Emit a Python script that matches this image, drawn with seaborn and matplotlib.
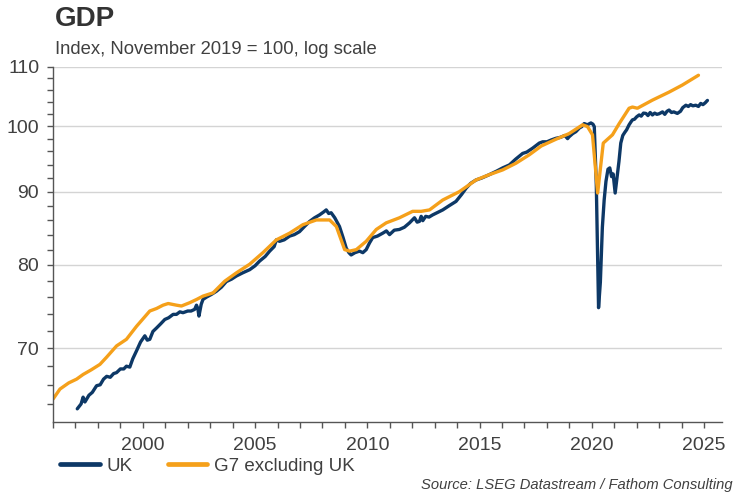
import numpy as np
import pandas as pd
import seaborn as sns
import matplotlib.pyplot as plt
from matplotlib.ticker import FixedLocator, NullFormatter

# UK monthly GDP index
uk_year = [1997.08, 1997.25, 1997.34, 1997.42, 1997.60, 1997.75, 1997.94, 1998.10, 1998.25, 1998.39,
           1998.55, 1998.70, 1998.83, 1999.00, 1999.15, 1999.27, 1999.42, 1999.55, 1999.72, 1999.90,
           2000.09, 2000.20, 2000.31, 2000.45, 2000.61, 2000.80, 2000.98, 2001.15, 2001.35, 2001.50,
           2001.65, 2001.79, 2002.00, 2002.15, 2002.31, 2002.39, 2002.45, 2002.50, 2002.60, 2002.68,
           2002.85, 2003.05, 2003.28, 2003.50, 2003.72, 2003.95, 2004.17, 2004.45, 2004.76, 2005.00,
           2005.20, 2005.45, 2005.65, 2005.85, 2005.95, 2006.09, 2006.30, 2006.54, 2006.75, 2006.98,
           2007.20, 2007.43, 2007.65, 2007.87, 2008.05, 2008.17, 2008.28, 2008.39, 2008.55, 2008.76,
           2008.92, 2009.06, 2009.18, 2009.28, 2009.45, 2009.65, 2009.80, 2009.95, 2010.10, 2010.24,
           2010.45, 2010.69, 2010.85, 2010.99, 2011.20, 2011.43, 2011.65, 2011.88, 2012.10, 2012.22,
           2012.32, 2012.40, 2012.47, 2012.60, 2012.75, 2012.91, 2013.10, 2013.36, 2013.65, 2013.95,
           2014.20, 2014.40, 2014.60, 2014.84, 2015.10, 2015.44, 2015.75, 2016.03, 2016.33, 2016.60,
           2016.92, 2017.10, 2017.36, 2017.66, 2017.81, 2018.00, 2018.20, 2018.40, 2018.60, 2018.80,
           2018.92, 2018.99, 2019.15, 2019.29, 2019.45, 2019.55, 2019.66, 2019.80, 2019.96, 2020.05,
           2020.11, 2020.20, 2020.30, 2020.38, 2020.47, 2020.55, 2020.63, 2020.72, 2020.80, 2020.88,
           2020.95, 2021.04, 2021.12, 2021.21, 2021.29, 2021.38, 2021.47, 2021.55, 2021.66, 2021.75,
           2021.81, 2021.90, 2022.00, 2022.11, 2022.20, 2022.30, 2022.41, 2022.50, 2022.60, 2022.70,
           2022.80, 2022.90, 2023.00, 2023.15, 2023.25, 2023.35, 2023.44, 2023.55, 2023.65, 2023.81,
           2023.95, 2024.05, 2024.19, 2024.30, 2024.40, 2024.50, 2024.63, 2024.75, 2024.85, 2024.95,
           2025.05, 2025.15]
uk_value = [63.5, 64.0, 64.7, 64.2, 64.9, 65.2, 65.9, 66.0, 66.6, 66.9,
            66.8, 67.2, 67.3, 67.7, 67.7, 68.0, 67.9, 68.8, 69.7, 70.7,
            71.4, 70.9, 71.0, 71.9, 72.3, 72.8, 73.3, 73.5, 73.9, 73.9,
            74.2, 74.1, 74.3, 74.3, 74.5, 75.0, 74.6, 73.7, 75.1, 75.7,
            76.0, 76.3, 76.7, 77.2, 77.9, 78.2, 78.6, 79.0, 79.4, 79.9,
            80.5, 81.1, 81.8, 82.4, 83.3, 83.1, 83.3, 83.8, 84.0, 84.4,
            85.1, 85.8, 86.3, 86.7, 87.1, 87.4, 86.9, 87.0, 86.3, 85.1,
            83.6, 82.2, 81.6, 81.3, 81.6, 81.8, 81.6, 82.0, 82.9, 83.6,
            83.8, 84.2, 84.5, 84.0, 84.6, 84.7, 85.0, 85.6, 86.3, 85.7,
            85.8, 86.5, 85.9, 86.5, 86.4, 86.7, 87.0, 87.4, 88.0, 88.6,
            89.6, 90.5, 91.2, 91.7, 92.0, 92.5, 93.0, 93.5, 93.95, 94.8,
            95.7, 95.9, 96.5, 97.3, 97.5, 97.5, 97.8, 98.05, 98.2, 98.5,
            98.0, 98.3, 98.8, 99.1, 99.7, 99.9, 100.4, 100.2, 100.5, 100.3,
            99.9, 91.0, 74.7, 77.8, 85.0, 88.8, 91.5, 93.3, 93.5, 92.2,
            92.6, 89.8, 92.0, 94.5, 97.3, 98.5, 99.0, 99.4, 100.2, 100.7,
            101.0, 101.1, 101.5, 101.8, 101.6, 102.1, 102.05, 101.7, 102.2, 101.8,
            102.1, 101.9, 102.0, 102.3, 101.9, 102.4, 102.6, 102.2, 102.3, 102.05,
            102.4, 103.0, 103.4, 103.2, 103.5, 103.3, 103.4, 103.2, 103.7, 103.5,
            103.8, 104.2]

# G7 excluding UK
g7_year = [1996.00, 1996.31, 1996.70, 1997.05, 1997.34, 1997.70, 1998.09, 1998.39, 1998.83, 1999.27,
           1999.72, 2000.05, 2000.31, 2000.61, 2000.90, 2001.13, 2001.50, 2001.72, 2002.09, 2002.40,
           2002.68, 2003.13, 2003.65, 2004.17, 2004.76, 2005.35, 2005.95, 2006.54, 2007.13, 2007.73,
           2008.32, 2008.62, 2008.99, 2009.21, 2009.51, 2009.95, 2010.40, 2010.84, 2011.43, 2012.02,
           2012.40, 2012.77, 2013.36, 2014.10, 2014.84, 2015.44, 2016.03, 2016.62, 2017.22, 2017.75,
           2018.40, 2018.99, 2019.59, 2019.81, 2020.03, 2020.26, 2020.51, 2020.92, 2021.22, 2021.66,
           2021.81, 2022.03, 2022.70, 2023.44, 2024.03, 2024.75]
g7_value = [64.5, 65.55, 66.2, 66.6, 67.1, 67.6, 68.2, 69.0, 70.25, 71.0,
            72.5, 73.5, 74.3, 74.6, 75.0, 75.2, 75.0, 74.9, 75.3, 75.7,
            76.1, 76.5, 77.95, 79.0, 80.1, 81.6, 83.3, 84.2, 85.35, 86.0,
            86.0, 85.1, 82.0, 81.8, 82.0, 83.1, 84.7, 85.6, 86.3, 87.2,
            87.2, 87.4, 88.8, 90.0, 91.7, 92.5, 93.2, 94.2, 95.5, 96.85,
            97.9, 98.8, 100.2, 99.9, 98.6, 89.8, 97.3, 98.6, 100.4, 102.9,
            103.1, 102.9, 104.25, 105.6, 106.8, 108.5]

y_ticks = [70, 80, 90, 100, 110]
x_ticks = [2000, 2005, 2010, 2015, 2020, 2025]

uk_color = '#0d3866'
g7_color = '#f5a01a'
text_color = '#404040'

sns.set_theme(style='white')
plt.rcParams['font.family'] = ['Liberation Sans', 'DejaVu Sans']

uk = pd.DataFrame({'year': uk_year, 'value': uk_value})
g7 = pd.DataFrame({'year': g7_year, 'value': g7_value})

fig = plt.figure(figsize=(7.5, 5), dpi=100)
ax = fig.add_axes([0.0707, 0.1566, 0.892, 0.71])

sns.lineplot(data=uk, x='year', y='value', color=uk_color, linewidth=2.4, label='UK', ax=ax)
sns.lineplot(data=g7, x='year', y='value', color=g7_color, linewidth=2.4, label='G7 excluding UK', ax=ax)

ax.set_yscale('log')
ax.set_ylim(62.2, 110)
ax.set_xlim(1996, 2025.8)

ax.yaxis.set_major_locator(FixedLocator(y_ticks))
ax.set_yticklabels([str(t) for t in y_ticks])
ax.yaxis.set_minor_locator(FixedLocator([v for v in range(62, 111, 2) if v not in y_ticks]))
ax.yaxis.set_minor_formatter(NullFormatter())
ax.xaxis.set_major_locator(FixedLocator(x_ticks))
ax.set_xticklabels([str(t) for t in x_ticks])
ax.xaxis.set_minor_locator(FixedLocator(list(range(1996, 2026))))

ax.grid(axis='y', which='major', color='#d4d4d4', linewidth=1.0)
ax.set_axisbelow(True)
for side in ['top', 'right']:
    ax.spines[side].set_visible(False)
for side in ['left', 'bottom']:
    ax.spines[side].set_color('#555555')
    ax.spines[side].set_linewidth(1.0)

ax.tick_params(axis='both', which='both', direction='out', color='#555555',
               length=4, width=1, labelsize=14, labelcolor=text_color, bottom=True, left=True)
ax.tick_params(axis='y', pad=6)
ax.tick_params(axis='x', pad=7)
ax.set_xlabel('')
ax.set_ylabel('')

ax.get_legend().remove()
handles, labels = ax.get_legend_handles_labels()
fig.legend(handles, labels, loc='center left', bbox_to_anchor=(0.058, 0.068), ncol=2,
           frameon=False, fontsize=13.5, handlelength=2.1, handletextpad=0.35,
           columnspacing=1.9, labelcolor=text_color)
for line in fig.legends[0].get_lines():
    line.set_linewidth(3.4)

fig.text(0.073, 0.947, 'GDP', fontsize=20, fontweight='bold', color='#333333', va='baseline')
fig.text(0.073, 0.893, 'Index, November 2019 = 100, log scale', fontsize=13.3,
         color=text_color, va='baseline')
fig.text(0.977, 0.022, 'Source: LSEG Datastream / Fathom Consulting', fontsize=10.6,
         style='italic', color=text_color, ha='right', va='baseline')

fig.savefig('out.png', dpi=100)
